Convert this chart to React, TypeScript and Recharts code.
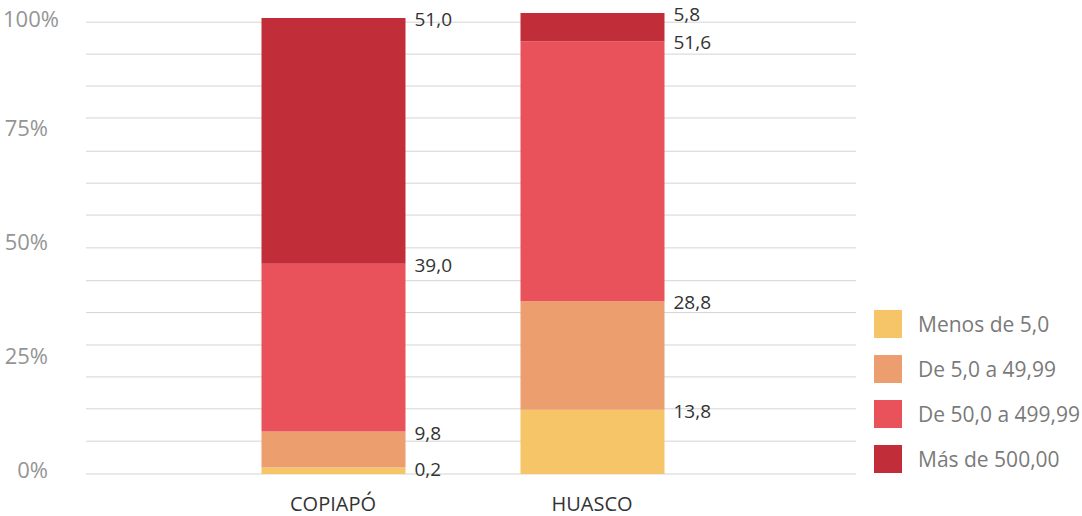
import React from 'react';
import { BarChart, Bar, XAxis, YAxis, CartesianGrid, LabelList } from 'recharts';

const categories = ['COPIAPÓ', 'HUASCO'];
const seriesNames = ['Menos de 5,0', 'De 5,0 a 49,99', 'De 50,0 a 499,99', 'Más de 500,00'];
const seriesColors = ['#F5C567', '#EC9E6E', '#E9525A', '#C12E3A'];

// bar heights as drawn (percent of column)
const menos5 = [1.4, 14.1];
const de5a49 = [7.9, 23.8];
const de50a499 = [36.8, 57.0];
const mas500 = [53.9, 6.2];

// printed value labels
const labelsMenos5 = ['0,2', '13,8'];
const labelsDe5a49 = ['9,8', '28,8'];
const labelsDe50a499 = ['39,0', '51,6'];
const labelsMas500 = ['51,0', '5,8'];

const yTicks = [0, 25, 50, 75, 100];
const gridValues = [0, 7.2, 14.3, 21.3, 28.3, 35.4, 42.4, 49.6, 56.8, 63.8, 70.8, 78.1, 85.1, 92.1, 99.1];

const data = categories.map((c, i) => ({
  name: c,
  s0: menos5[i],
  s1: de5a49[i],
  s2: de50a499[i],
  s3: mas500[i],
  l0: labelsMenos5[i],
  l1: labelsDe5a49[i],
  l2: labelsDe50a499[i],
  l3: labelsMas500[i],
}));

const FONT = '"Open Sans", "Noto Sans", sans-serif';

const renderValueLabel = (props: any) => {
  const { x, y, width, value } = props;
  return (
    <text
      x={Number(x) + Number(width) + 9}
      y={Number(y) + 1}
      dominantBaseline="central"
      textAnchor="start"
      fontFamily={FONT}
      fontSize={19}
      fill="#333333"
    >
      {value}
    </text>
  );
};

const YTick = (props: any) => {
  const { x, y, payload } = props;
  const wide = payload.value === 100;
  return (
    <text
      x={wide ? x - 83 : x - 38}
      y={wide ? y : y - 5}
      textAnchor={wide ? 'start' : 'end'}
      dominantBaseline="central"
      fontFamily={FONT}
      fontSize={22}
      fill="#959595"
    >
      {payload.value + '%'}
    </text>
  );
};

const XTick = (props: any) => {
  const { x, y, payload } = props;
  return (
    <text
      x={x}
      y={y + 29}
      textAnchor="middle"
      dominantBaseline="central"
      fontFamily={FONT}
      fontSize={20}
      fill="#333333"
    >
      {payload.value}
    </text>
  );
};

const LegendBlock = () => (
  <div
    style={{
      position: 'absolute',
      left: 874,
      top: 310,
      display: 'flex',
      flexDirection: 'column',
      gap: 17,
      fontFamily: FONT,
    }}
  >
    {seriesNames.map((n, i) => (
      <div key={n} style={{ display: 'flex', alignItems: 'center', height: 28 }}>
        <div style={{ width: 28, height: 28, background: seriesColors[i], marginRight: 16 }} />
        <span style={{ fontSize: 21, color: '#7a7a7a', whiteSpace: 'nowrap' }}>{n}</span>
      </div>
    ))}
  </div>
);

export default function App() {
  return (
    <div style={{ position: 'absolute', left: 0, top: 0, width: 1082, height: 516, background: '#ffffff' }}>
      <BarChart
        width={1082}
        height={516}
        data={data}
        margin={{ top: 9, right: 226, bottom: 0, left: 0 }}
      >
        <CartesianGrid
          vertical={false}
          horizontal={true}
          stroke="#d4d4d4"
          strokeWidth={1}
          horizontalValues={gridValues}
        />
        <XAxis
          dataKey="name"
          axisLine={false}
          tickLine={false}
          tickSize={0}
          tickMargin={0}
          height={42}
          padding={{ left: 117.5, right: 134.5 }}
          tick={<XTick />}
          interval={0}
        />
        <YAxis
          type="number"
          domain={[0, 102]}
          ticks={yTicks}
          allowDataOverflow={true}
          axisLine={false}
          tickLine={false}
          tickSize={0}
          tickMargin={0}
          width={86}
          tick={<YTick />}
        />
        {['s0', 's1', 's2', 's3'].map((k, i) => (
          <Bar
            key={k}
            dataKey={k}
            name={seriesNames[i]}
            stackId="a"
            fill={seriesColors[i]}
            barSize={144}
            isAnimationActive={false}
          >
            <LabelList dataKey={'l' + i} content={renderValueLabel} />
          </Bar>
        ))}
      </BarChart>
      <LegendBlock />
    </div>
  );
}
